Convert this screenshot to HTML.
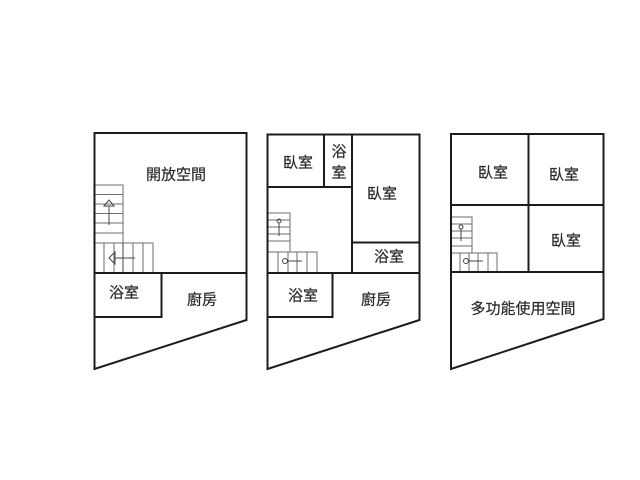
<!DOCTYPE html>
<html><head><meta charset="utf-8"><style>
html,body{margin:0;padding:0;background:#fff}
svg{display:block}
text{font-family:"Liberation Sans","Noto Sans CJK TC",sans-serif;font-size:15px;fill:#2a2a2a;stroke:#2a2a2a;stroke-width:.2px;text-anchor:middle;dominant-baseline:central}
.w{fill:none;stroke:#1c1c1c;stroke-width:2}
.s{fill:none;stroke:#6e6e6e;stroke-width:1}
.d{fill:none;stroke:#444;stroke-width:1}
</style></head><body>
<svg width="640" height="480" viewBox="0 0 640 480" xmlns="http://www.w3.org/2000/svg">
<rect width="640" height="480" fill="#fff"/>
<g style="filter:blur(.35px)">
<!-- Plan 1 stairs -->
<path class="s" d="M95 185H123V243M95 194.500H123M95 204H123M95 213.500H123M95 223H123M95 233H123M95 243H153V272M104 243V272M114 243V272M133 243V272M143 243V272"/>
<path class="d" d="M123 243V272M109 225V206"/>
<path class="d" d="M104 206L109 200L114 206Z"/>
<path class="d" d="M135 258H115"/>
<path class="d" d="M115 252L109 258L115 264Z"/>
<!-- Plan 1 walls -->
<path class="w" d="M94.500 133H246.500V320L94.500 369Z"/>
<path class="w" d="M94.500 273H246.500M161.500 273V317H94.500"/>
<!-- Plan 2 stairs -->
<path class="s" d="M268 213H290V252M268 220H290M268 227H290M268 234H290M268 241H290M268 252H317V272M278 252V272M288 252V272M297 252V272M307 252V272"/>
<path class="d" d="M279 236V223M302 261H288"/>
<circle class="d" cx="279" cy="221" r="2"/>
<circle class="d" cx="285" cy="261" r="2.500"/>
<!-- Plan 2 walls -->
<path class="w" d="M267.500 134.500H419.500V320L267.500 369Z"/>
<path class="w" d="M267.500 273H419.500M332.500 273V317H267.500M267.500 187H352M324 134.500V187M352 134.500V273M352 242.500H419.500"/>
<!-- Plan 3 stairs -->
<path class="s" d="M451 217H472V253M451 224H472M451 231H472M451 238H472M451 246H472M451 253H497V272M460 253V272M469 253V272M478 253V272M488 253V272"/>
<path class="d" d="M461 241V229M483 261H469"/>
<circle class="d" cx="461" cy="227" r="2"/>
<circle class="d" cx="466" cy="261" r="2.500"/>
<!-- Plan 3 walls -->
<path class="w" d="M451 134H603.500V319L451 369Z"/>
<path class="w" d="M451 272H603.500M451 205H603.500M528.500 134V272"/>
<!-- Labels -->
<text x="176" y="175">開放空間</text>
<text x="124" y="293">浴室</text>
<text x="202" y="300">廚房</text>
<text x="298" y="163">臥室</text>
<text x="339" y="152">浴</text>
<text x="339" y="173">室</text>
<text x="382" y="194">臥室</text>
<text x="389" y="257">浴室</text>
<text x="303" y="296">浴室</text>
<text x="376" y="300">廚房</text>
<text x="493" y="173">臥室</text>
<text x="564" y="175">臥室</text>
<text x="566" y="241">臥室</text>
<text x="523" y="309">多功能使用空間</text>
</g>
</svg>
</body></html>
